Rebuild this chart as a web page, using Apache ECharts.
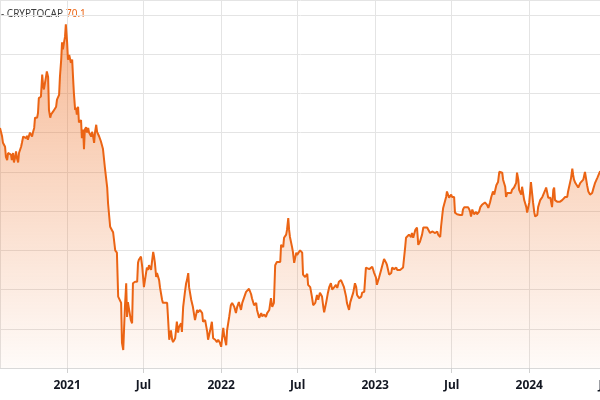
<!DOCTYPE html>
<html><head><meta charset="utf-8">
<script src="https://cdn.jsdelivr.net/npm/echarts@6/dist/echarts.min.js"></script>
<style>html,body{margin:0;padding:0;background:#fff}#c{width:600px;height:400px}</style>
</head><body><div id="c"></div>
<script>
const seriesName = 'CRYPTOCAP';
const startDate = [2020, 6, 26];   // day 0 (year, monthIndex, day)
const endDay = 1469;               // right end of the time axis, in days from start
const monthLabels = ['Jan','Feb','Mar','Apr','May','Jun','Jul','Aug','Sep','Oct','Nov','Dec'];
const yMin = 45, yMax = 91.9, yStep = 5;

const dayOffsets = [
0,2,5,7,9,12,14,17,19,21,26,28,31,33,36,38,40,43,45,50,52,55,57,62,64,66,71,76,78,81,83,88,90,92,97,100,102,104,107,109,111,114,116,119,121,126,128,133,135,140,
142,145,147,149,152,154,156,159,161,164,168,171,173,175,178,180,182,185,187,192,194,197,199,201,204,206,209,211,216,218,220,223,225,228,230,235,237,239,242,244,249,254,256,261,265,268,273,277,280,284,
287,289,292,296,299,301,303,306,310,313,315,320,325,327,329,334,337,339,341,346,348,351,353,358,360,363,365,367,370,372,377,379,384,386,391,396,398,401,405,408,410,415,417,419,422,424,429,431,434,438,
441,443,446,448,453,455,457,462,467,469,474,479,481,486,491,493,498,502,505,510,514,517,521,524,529,531,536,538,543,547,550,555,559,562,566,571,574,578,583,585,590,595,597,602,607,609,614,619,621,626,
630,633,638,642,645,649,652,656,659,664,666,671,673,678,680,683,685,687,692,694,697,702,704,711,716,718,723,728,730,735,739,742,747,751,754,758,763,766,768,773,777,780,784,787,792,796,799,803,808,811,
815,820,822,827,830,834,837,841,844,846,851,856,858,863,867,870,875,879,882,886,891,893,898,903,905,910,915,917,922,927,929,934,939,941,948,955,960,962,965,969,974,976,979,984,988,991,995,1000,1003,1007,
1012,1014,1019,1024,1026,1031,1036,1038,1043,1045,1048,1050,1052,1057,1059,1062,1064,1069,1071,1076,1078,1083,1085,1090,1095,1097,1100,1104,1109,1112,1114,1116,1119,1123,1128,1130,1135,1138,1142,1145,1149,1154,1157,1161,1164,1168,1171,1176,1180,1183,
1185,1190,1192,1197,1199,1202,1206,1211,1213,1218,1223,1225,1228,1230,1235,1237,1240,1242,1247,1249,1251,1254,1258,1261,1263,1266,1268,1273,1275,1280,1285,1287,1292,1294,1296,1299,1304,1308,1311,1313,1315,1320,1322,1327,1332,1334,1339,1344,1346,1349,
1353,1356,1358,1360,1363,1367,1370,1375,1379,1382,1386,1389,1391,1394,1398,1403,1405,1410,1415,1417,1422
];
const values = [
75.6,75.4,74.5,73.7,73.8,73.2,71.9,71.5,72.4,72.6,72.2,71.5,72.4,71.2,71.9,72.6,71.8,71.2,72.4,73.2,73.7,74.5,74.7,74.3,74.6,74.1,75.0,74.5,75.0,75.6,76.9,76.9,77.5,79.4,79.6,82.4,81.1,80.5,80.7,82.1,82.8,82.1,77.9,76.9,77.3,77.7,77.9,78.3,79.2,79.8,
82.1,84.3,86.5,85.6,86.6,87.2,88.8,86.5,84.3,84.9,83.9,84.3,82.1,80.1,77.9,78.2,77.3,78.3,76.3,76.6,74.3,75.4,72.9,75.4,75.7,75.0,75.6,75.0,74.5,75.1,74.7,73.7,75.0,76.0,75.1,74.5,74.3,73.9,73.7,72.9,70.3,68.0,66.0,63.0,62.6,62.3,60.0,59.7,54.1,54.1,
53.3,48.2,47.3,52.8,55.8,51.5,53.4,53.3,51.1,50.7,55.8,56.0,56.0,58.4,58.8,59.2,57.9,56.6,55.3,57.1,57.8,57.5,58.1,57.5,58.5,59.8,59.2,58.4,56.6,57.1,56.2,55.3,53.7,53.3,53.3,53.3,51.5,48.6,49.8,48.6,48.3,48.8,49.8,50.9,49.5,50.2,50.7,49.6,52.8,54.6,
55.8,56.2,57.1,55.3,53.7,53.9,52.8,51.1,52.4,52.1,52.4,52.0,50.9,51.1,49.6,48.6,49.8,50.9,48.8,48.6,48.3,48.6,48.2,47.7,50.1,49.2,47.9,49.8,51.5,53.0,53.3,52.8,52.0,52.8,53.4,52.4,53.3,53.3,54.7,54.6,55.1,54.4,53.9,53.0,53.3,52.4,51.4,52.0,51.6,51.8,
51.5,52.0,52.4,53.9,52.8,53.3,58.1,58.5,58.4,58.5,60.7,60.4,61.6,62.0,62.6,64.1,62.6,61.7,60.4,59.8,58.4,59.7,59.4,60.0,59.7,56.9,56.6,57.0,55.6,55.3,54.1,53.0,53.3,54.3,53.7,54.6,54.1,52.8,52.1,53.4,54.6,55.3,55.8,55.0,55.3,55.6,55.2,56.0,56.2,56.0,
55.3,54.1,53.3,52.4,53.4,54.1,54.6,55.8,55.3,54.3,53.9,54.1,54.6,54.7,57.8,57.9,57.6,57.8,57.9,57.2,56.5,55.6,56.5,57.5,57.9,58.9,58.4,58.1,56.9,57.1,57.8,57.6,57.8,57.5,57.5,57.8,60.4,61.6,61.7,62.0,61.7,62.2,61.6,62.6,62.9,60.7,61.1,62.0,62.9,63.0,
62.9,63.0,62.2,62.4,62.4,62.2,62.4,62.0,61.7,63.0,64.5,65.4,65.5,66.8,67.5,67.7,66.7,67.1,66.8,66.8,64.8,64.6,64.8,64.5,64.5,65.2,65.5,65.7,65.5,65.2,64.9,64.3,65.2,64.6,64.9,64.6,64.9,65.5,65.8,65.7,66.1,65.8,65.4,66.1,66.8,67.5,67.1,68.3,68.7,70.0,
70.0,69.9,69.0,68.1,66.8,67.3,67.5,67.3,67.7,68.0,68.6,69.9,69.0,67.7,67.1,68.1,68.0,66.4,65.5,64.8,64.9,66.1,68.7,68.6,66.1,64.8,64.3,64.5,65.5,66.4,66.8,66.8,67.7,68.0,67.5,66.7,66.7,65.5,67.7,68.0,66.4,66.2,66.1,66.2,66.4,66.6,66.8,66.8,67.5,67.5,
69.2,70.4,69.6,69.0,68.6,68.7,68.0,68.6,68.7,69.0,70.0,69.9,68.3,67.5,67.1,67.3,67.7,68.6,69.2,69.4,70.1
];

const toTime = d => new Date(startDate[0], startDate[1], startDate[2] + d).getTime();
const data = dayOffsets.map((d, i) => [toTime(d), values[i]]);
const lastValue = values[values.length - 1].toFixed(1);
const DAY = 86400000;
const lineColor = '#eb6414';

const chart = echarts.init(document.getElementById('c'), null, {renderer: 'canvas'});
chart.setOption({
  animation: false,
  grid: {left: 0, top: 0, right: -20, bottom: 32, containLabel: false, outerBoundsMode: 'none'},
  xAxis: {
    type: 'time',
    min: toTime(0), max: toTime(endDay),
    splitNumber: 8, minInterval: 181 * DAY, maxInterval: 184 * DAY,
    axisLine: {show: true, lineStyle: {color: '#d9d9d9', width: 1}},
    axisTick: {show: true, length: 5, lineStyle: {color: '#d0d0d0'}},
    axisLabel: {
      showMinLabel: false, showMaxLabel: false, margin: 12,
      color: '#131722', fontSize: 12, fontWeight: 'bold', fontFamily: '"Noto Sans", sans-serif',
      formatter: v => { const d = new Date(v); return d.getMonth() === 0 ? String(d.getFullYear()) : monthLabels[d.getMonth()]; }
    },
    splitLine: {show: true, lineStyle: {color: '#e4e4e4', width: 1}}
  },
  yAxis: {
    type: 'value', min: yMin, max: yMax, interval: yStep,
    axisLabel: {show: false}, axisLine: {show: false}, axisTick: {show: false},
    splitLine: {show: true, lineStyle: {color: '#e4e4e4', width: 1}}
  },
  series: [{
    name: seriesName, type: 'line', data: data, symbol: 'none', showSymbol: false,
    lineStyle: {color: lineColor, width: 2},
    areaStyle: {color: new echarts.graphic.LinearGradient(0, 0, 0, 1, [
      {offset: 0, color: 'rgba(235,100,20,0.64)'},
      {offset: 1, color: 'rgba(235,100,20,0.04)'}
    ])}
  }],
  graphic: [
    {type: 'text', left: 1, top: 9, style: {text: '- ' + seriesName, fill: '#3c3c3c', font: '10px "Noto Sans", sans-serif'}},
    {type: 'text', left: 66, top: 9, style: {text: lastValue, fill: lineColor, font: '10px "Noto Sans", sans-serif'}}
  ]
});
</script></body></html>
